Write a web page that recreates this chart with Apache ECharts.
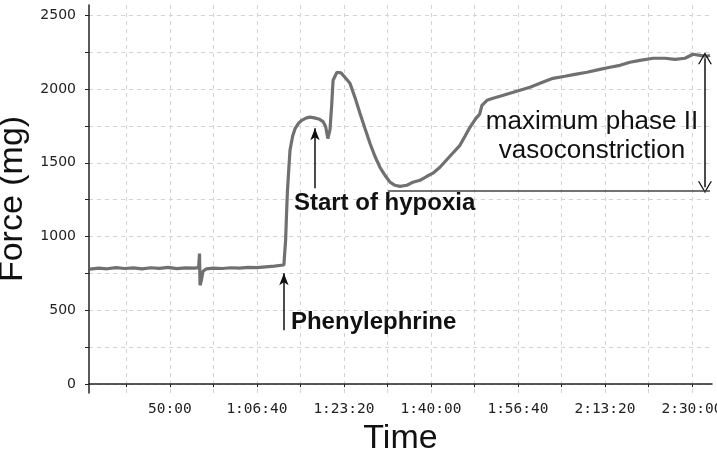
<!DOCTYPE html>
<html>
<head>
<meta charset="utf-8">
<script src="https://cdn.jsdelivr.net/npm/echarts@6/dist/echarts.min.js"></script>
<style>
  html, body { margin: 0; padding: 0; background: #fff; }
  #chart { width: 717px; height: 456px; }
</style>
</head>
<body>
<div id="chart"></div>
<script>
// recording time in seconds, force in mg
const timeSec = [
  2080, 2180, 2280, 2380, 2480, 2580, 2680, 2780, 2880, 2980, 3080, 3180, 3280, 3330,
  3340, 3346, 3360, 3380, 3420, 3500, 3600, 3700, 3800, 3900, 4000, 4100, 4200, 4280,
  4310, 4330, 4340, 4350, 4360, 4380, 4410, 4440, 4480, 4520, 4570, 4610, 4660, 4720,
  4760, 4790, 4815, 4840, 4860, 4875, 4920, 4966, 5011, 5069, 5126, 5184, 5241, 5299,
  5356, 5414, 5471, 5529, 5586, 5644, 5724, 5793, 5874, 5954, 6023, 6103, 6218, 6333,
  6391, 6448, 6517, 6560, 6586, 6644, 6713, 6793, 6908, 7023, 7138, 7253, 7402, 7540,
  7655, 7793, 7942, 8057, 8172, 8287, 8402, 8552, 8690, 8805, 8920, 9011, 9092, 9172, 9207
]
const forceMg = [
  780, 786, 782, 790, 784, 788, 781, 789, 785, 791, 783, 788, 786, 790,
  885, 670, 700, 765, 782, 786, 784, 789, 787, 792, 790, 795, 800, 806,
  808, 980, 1150, 1300, 1400, 1585, 1680, 1734, 1770, 1790, 1805, 1810, 1805, 1795,
  1780, 1745, 1665, 1725, 1900, 2060, 2114, 2110, 2080, 2039, 1944, 1836, 1734, 1633,
  1545, 1470, 1416, 1369, 1348, 1341, 1348, 1369, 1382, 1409, 1430, 1470, 1545, 1619,
  1680, 1741, 1802, 1830, 1890, 1924, 1938, 1951, 1972, 1992, 2012, 2039, 2073, 2087,
  2100, 2114, 2134, 2148, 2161, 2182, 2195, 2209, 2209, 2202, 2209, 2236, 2229, 2222, 2229
]

const xTicks = [2500, 3000, 3500, 4000, 4500, 5000, 5500, 6000, 6500, 7000, 7500, 8000, 8500, 9000]
const xLabels = [3000, 4000, 5000, 6000, 7000, 8000, 9000]
const yTicks = [0, 250, 500, 750, 1000, 1250, 1500, 1750, 2000, 2250, 2500]
const yLabels = [0, 500, 1000, 1500, 2000, 2500]

// annotation anchors [time, force]
const pheArrow = [[4310, 366], [4310, 752]]
const hypoxiaArrow = [[4667, 1328], [4667, 1734]]
const phaseArrow = [[9149, 2209], [9149, 1335]]
const phaseBase = [[5506, 1314], [9207, 1314]]
const pheText = [4391, 417]
const hypoxiaText = [4425, 1223]
const phaseText = [7851, 1677]

function fmtTime(v) {
  let h = Math.floor(v / 3600)
  let m = Math.floor((v % 3600) / 60)
  let s = Math.round(v % 60)
  let ss = String(s).padStart(2, '0')
  if (h > 0) return h + ':' + String(m).padStart(2, '0') + ':' + ss
  return m + ':' + ss
}

let chart = echarts.init(document.getElementById('chart'))

const arrowStyle = { color: '#111', width: 1.5, type: 'solid' }
const chevron = 'path://M0,0 L6,9 L4.8,9 L0,1.8 L-4.8,9 L-6,9 Z'

let option = {
  backgroundColor: '#fff',
  animation: false,
  grid: {
    left: 89,
    right: 5,
    top: 5,
    bottom: 63,
    outerBoundsMode: 'none',
  },
  xAxis: {
    type: 'value',
    min: 2070,
    max: 9230,
    name: 'Time',
    nameLocation: 'middle',
    nameGap: 28,
    nameTextStyle: { fontFamily: 'Liberation Sans', fontSize: 34, color: '#111' },
    axisLine: { lineStyle: { color: '#222', width: 1.5 } },
    axisTick: { customValues: xTicks, length: 3, lineStyle: { color: '#222' } },
    axisLabel: {
      customValues: xLabels,
      formatter: fmtTime,
      margin: 9,
      fontFamily: 'DejaVu Sans Mono',
      fontSize: 14.5,
      color: '#222',
    },
    splitLine: { show: true, lineStyle: { color: '#d4d4d4', type: [4, 4] } },
  },
  yAxis: {
    type: 'value',
    min: -60,
    max: 2570,
    name: 'Force (mg)',
    nameLocation: 'middle',
    nameGap: 40,
    nameTextStyle: { fontFamily: 'Liberation Sans', fontSize: 34, color: '#111' },
    axisLine: { show: true, lineStyle: { color: '#222', width: 1.5 } },
    axisTick: { show: true, customValues: yTicks, length: 4, lineStyle: { color: '#222' } },
    axisLabel: {
      customValues: yLabels,
      formatter: (v) => String(v),
      margin: 13,
      fontFamily: 'DejaVu Sans',
      fontSize: 14,
      color: '#222',
    },
    splitLine: { show: true, lineStyle: { color: '#d4d4d4', type: [4, 4] } },
  },
  series: [
    {
      type: 'line',
      data: timeSec.map((t, i) => [t, forceMg[i]]),
      showSymbol: false,
      lineStyle: { color: '#707070', width: 3.2 },
      markLine: {
        silent: true,
        animation: false,
        label: { show: false },
        data: [
          [
            { coord: pheArrow[0], symbol: 'none', lineStyle: arrowStyle },
            { coord: pheArrow[1], symbol: 'arrow', symbolSize: [7, 12] },
          ],
          [
            { coord: hypoxiaArrow[0], symbol: 'none', lineStyle: arrowStyle },
            { coord: hypoxiaArrow[1], symbol: 'arrow', symbolSize: [7, 12] },
          ],
          [
            { coord: phaseArrow[0], symbol: chevron, symbolSize: [14, 12], lineStyle: arrowStyle },
            { coord: phaseArrow[1], symbol: chevron, symbolSize: [14, 12] },
          ],
          [
            { coord: phaseBase[0], symbol: 'none', lineStyle: { color: '#444', width: 1.5, type: 'solid' } },
            { coord: phaseBase[1], symbol: 'none' },
          ],
        ],
      },
      markPoint: {
        silent: true,
        symbol: 'circle',
        symbolSize: 0,
        data: [
          {
            coord: pheText,
            name: 'Phenylephrine',
            label: { align: 'left', fontWeight: 'bold' },
          },
          {
            coord: hypoxiaText,
            name: 'Start of hypoxia',
            label: { align: 'left', fontWeight: 'bold' },
          },
          {
            coord: phaseText,
            name: 'maximum phase II\nvasoconstriction',
            label: { align: 'center', fontSize: 26, lineHeight: 29 },
          },
        ],
        label: {
          show: true,
          position: 'inside',
          verticalAlign: 'middle',
          formatter: (p) => p.name,
          fontFamily: 'Liberation Sans',
          fontSize: 24,
          color: '#111',
        },
      },
    },
  ],
}

chart.setOption(option)
window.addEventListener('resize', () => {
  chart.resize()
})
</script>
</body>
</html>
